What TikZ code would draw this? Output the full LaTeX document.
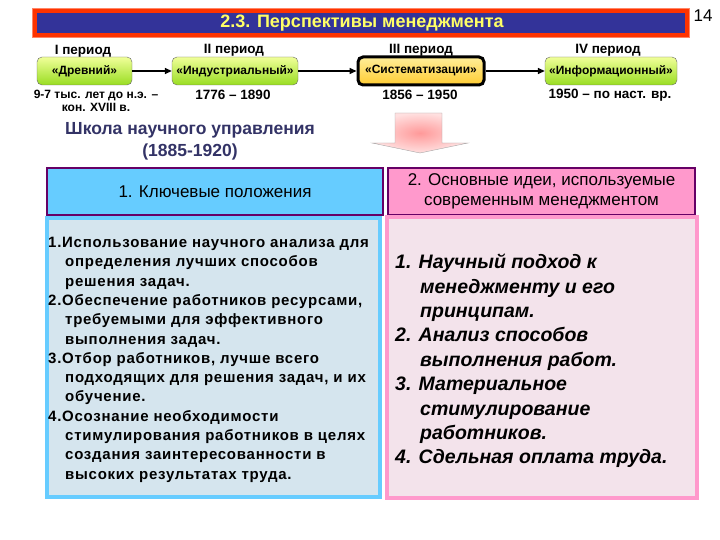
\documentclass[tikz,border=0pt]{standalone}
\usepackage{fontspec}
\setmainfont{Liberation Sans}
\usetikzlibrary{arrows.meta,positioning}

\definecolor{barblue}{HTML}{333399}
\definecolor{barred}{HTML}{FF3300}
\definecolor{titleyel}{HTML}{FFFF66}
\definecolor{limetop}{HTML}{F0FF99}
\definecolor{limebot}{HTML}{99DD22}
\definecolor{goldtop}{HTML}{FFEE99}
\definecolor{goldbot}{HTML}{FFCC33}
\definecolor{navy}{HTML}{333366}
\definecolor{skyhead}{HTML}{66CCFF}
\definecolor{pinkhead}{HTML}{FF99CC}
\definecolor{plum}{HTML}{660066}
\definecolor{skybody}{HTML}{D5E5EE}
\definecolor{pinkbody}{HTML}{F3E3EB}
\definecolor{arrowpink}{HTML}{FF9999}

\newcommand{\indl}{\hspace*{17pt}}
\newcommand{\indr}{\hspace*{25pt}}

\begin{document}
\begin{tikzpicture}[x=1pt,y=1pt,yscale=-1,
    periodbox/.style={draw=black!60, rounded corners=5pt, top color=limetop, bottom color=limebot,
      minimum height=28pt, inner sep=1pt, font=\fontsize{12}{14}\selectfont\bfseries},
    periodlbl/.style={font=\fontsize{13.5}{15}\selectfont\bfseries, inner sep=0pt},
    datelbl/.style={font=\fontsize{13.5}{15}\selectfont\bfseries, inner sep=0pt, align=center},
    headbox/.style={draw=plum, line width=2.5pt, minimum height=47pt, inner sep=0pt, align=center,
      font=\fontsize{17}{20}\selectfont},
    bodybox/.style={line width=4pt},
    link/.style={-{Triangle[length=7pt,width=6pt]}, line width=1.5pt}]
  \useasboundingbox (0,0) rectangle (720,540);

  % title bar
  \draw[barred!60, line width=6pt] (35,11) rectangle (687,35);
  \draw[barred, line width=3.5pt, fill=barblue] (35,11) rectangle (687,35);
  \node[font=\fontsize{18}{20}\selectfont\bfseries, text=titleyel] (title) at (362,23) {2.3. Перспективы менеджмента};
  \node[font=\fontsize{17}{20}\selectfont] (pagenum) at (703,16) {14};

  % periods
  \node[periodbox, minimum width=95pt] (ancient) at (84.5,71) {«Древний»};
  \node[periodbox, minimum width=126pt] (industrial) at (235,71) {«Индустриальный»};
  \node[periodbox, minimum width=126pt, draw=black, line width=3pt, top color=goldtop, bottom color=goldbot] (system) at (421,71) {«Систематизации»};
  \node[periodbox, minimum width=132pt] (info) at (611,71) {«Информационный»};

  \node[periodlbl] (per1) at (83,51) {I период};
  \node[periodlbl] (per2) at (234,50) {II период};
  \node[periodlbl] (per3) at (421,50) {III период};
  \node[periodlbl] (per4) at (608,50) {IV период};

  \node[datelbl, font=\fontsize{12}{12.5}\selectfont\bfseries] (date1) at (96,101) {9-7 тыс. лет до н.э. –\\кон. XVIII в.};
  \node[datelbl] (date2) at (233,95) {1776 – 1890};
  \node[datelbl] (date3) at (420,95) {1856 – 1950};
  \node[datelbl] (date4) at (610,95) {1950 – по наст. вр.};

  \draw[link] (ancient) -- (industrial);
  \draw[link] (industrial) -- (system);
  \draw[link] (system) -- (info);

  % block arrow
  \shade[draw=black!35, inner color=arrowpink, outer color=arrowpink!30] (395,113) -- (442,113) -- (442,143) -- (468,143) -- (420,153) -- (372,143) -- (395,143) -- cycle;

  \node[font=\fontsize{17.5}{22}\selectfont\bfseries, text=navy, align=center] (school) at (190,141) {Школа научного управления\\(1885-1920)};

  % headers
  \node[headbox, fill=skyhead, minimum width=336pt] (keyhead) at (215,191.5) {1. Ключевые положения};
  \node[headbox, fill=pinkhead, minimum width=307pt] (ideahead) at (541.5,191.5) {2. Основные идеи, используемые\\современным менеджментом};

  % bodies
  \draw[bodybox, draw=skyhead, fill=skybody] (47,218) rectangle (380,497);
  \draw[bodybox, draw=pinkhead, fill=pinkbody] (387,217) rectangle (697,498);

  \node[anchor=north west, inner sep=0pt, align=left,
    font=\fontsize{15}{19.3}\selectfont\bfseries\addfontfeatures{LetterSpace=5}] (keytext) at (48,237) {%
    1.Использование научного анализа для\\
    \indl определения лучших способов\\
    \indl решения задач.\\
    2.Обеспечение работников ресурсами,\\
    \indl требуемыми для эффективного\\
    \indl выполнения задач.\\
    3.Отбор работников, лучше всего\\
    \indl подходящих для решения задач, и их\\
    \indl обучение.\\
    4.Осознание необходимости\\
    \indl стимулирования работников в целях\\
    \indl создания заинтересованности в\\
    \indl высоких результатах труда.};

  \node[anchor=north west, inner sep=0pt, align=left,
    font=\fontsize{19.5}{24.4}\selectfont\bfseries\itshape] (ideatext) at (395,254) {%
    1. Научный подход к\\
    \indr менеджменту и его\\
    \indr принципам.\\
    2. Анализ способов\\
    \indr выполнения работ.\\
    3. Материальное\\
    \indr стимулирование\\
    \indr работников.\\
    4. Сдельная оплата труда.};
\end{tikzpicture}
\end{document}
